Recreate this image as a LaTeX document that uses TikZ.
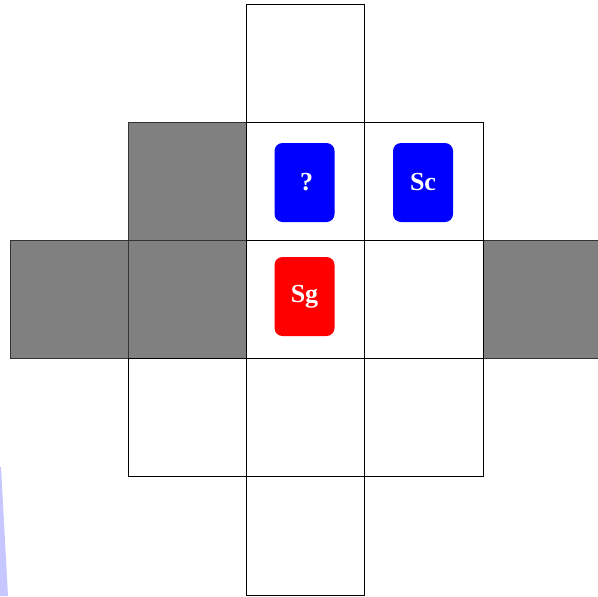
\documentclass[tikz,border=0pt]{standalone}
\usepackage{fontspec}
\setmainfont{Liberation Serif}
\begin{document}
\begin{tikzpicture}[x=0.75pt,y=-0.75pt,
  cell/.style={draw=black,line width=0.75pt},
  grayc/.style={draw=black!80,fill=gray,line width=0.75pt},
  card/.style={rounded corners=6pt,minimum width=45pt,minimum height=59.25pt,inner sep=0pt,text=white,font=\bfseries\fontsize{19.5}{20}\selectfont}]
\useasboundingbox (0,0) rectangle (598,596);
% light blue sliver
\fill[blue!22] (0,467) -- (1,467) -- (8,596) -- (0,596) -- cycle;
% gray cells
\path[grayc] (128,122) rectangle (246,240);
\path[grayc] (10,240) rectangle (128,358);
\path[grayc] (128,240) rectangle (246,358);
\path[grayc] (483,240) rectangle (600,358);
% white cells
\path[cell] (246,4) rectangle (364,122);
\path[cell] (246,122) rectangle (364,240);
\path[cell] (364,122) rectangle (483,240);
\path[cell] (246,240) rectangle (364,358);
\path[cell] (364,240) rectangle (483,358);
\path[cell] (128,358) rectangle (246,476);
\path[cell] (246,358) rectangle (364,476);
\path[cell] (364,358) rectangle (483,476);
\path[cell] (246,476) rectangle (364,595);
% cards
\node[card,fill=blue] (q) at (304.5,182.5) {\hspace{3pt}?};
\node[card,fill=blue] (sc) at (423,182.5) {Sc};
\node[card,fill=red] (sg) at (304.5,296.5) {Sg};
\end{tikzpicture}
\end{document}
